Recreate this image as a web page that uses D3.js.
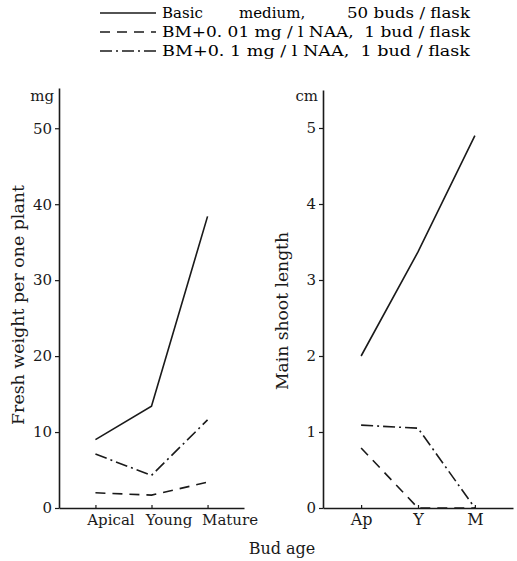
<!DOCTYPE html>
<html>
<head>
<meta charset="utf-8">
<script src="https://cdn.jsdelivr.net/npm/d3@7"></script>
<style>
  body { margin: 0; background: #fff; }
  svg { display: block; font-family: "DejaVu Serif", serif; }
</style>
</head>
<body>
<div class="container"></div>
<script>
/* ===== DATA ===== */
var budAge = ["Apical", "Young", "Mature"];
var budAgeShort = ["Ap", "Y", "M"];
var seriesNames = [
  "Basic medium, 50 buds / flask",
  "BM+0. 01 mg / l NAA,  1 bud / flask",
  "BM+0. 1 mg / l NAA,  1 bud / flask"
];
var weightBasic = [9.0, 13.4, 38.4];
var weightNaa001 = [2.0, 1.7, 3.4];
var weightNaa01 = [7.1, 4.3, 11.6];
var lengthBasic = [2.0, 3.37, 4.9];
var lengthNaa001 = [0.79, 0, 0];
var lengthNaa01 = [1.09, 1.05, 0];
var weightTicks = [0, 10, 20, 30, 40, 50];
var lengthTicks = [0, 1, 2, 3, 4, 5];

var dashes = [null, "10,7", "12,4,2,4"];
var ink = "#1a1a1a";
var serif = '"DejaVu Serif", serif';

var w = 517, h = 561;
var svg = d3.select('.container')
  .append('svg')
  .attr('width', w)
  .attr('height', h);

/* ===== LEGEND ===== */
var legend = svg.append('g');
seriesNames.forEach(function(name, i) {
  var y = 13 + i * 19;
  legend.append('line')
    .attr('x1', 100).attr('x2', 156)
    .attr('y1', y).attr('y2', y)
    .attr('stroke', ink)
    .attr('stroke-width', 1.4)
    .attr('stroke-dasharray', dashes[i]);
});
// first row is spread out like the original
legend.append('text').attr('x', 162).attr('y', 18).attr('font-size', '15px').text("Basic");
legend.append('text').attr('x', 239).attr('y', 18).attr('font-size', '15px').text("medium,");
legend.append('text').attr('x', 347).attr('y', 18).attr('font-size', '15px')
  .attr('textLength', 123).attr('lengthAdjust', 'spacingAndGlyphs').text("50 buds / flask");
[1, 2].forEach(function(i) {
  legend.append('text')
    .attr('x', 162).attr('y', 18 + i * 19)
    .attr('font-size', '15px')
    .attr('textLength', 308)
    .attr('lengthAdjust', 'spacingAndGlyphs')
    .style('white-space', 'pre')
    .text(seriesNames[i]);
});

/* ===== PANEL BUILDER ===== */
function buildPanel(opt) {
  var xScale = d3.scalePoint()
    .domain(opt.cats)
    .range([opt.x0, opt.x1])
    .padding(opt.pad);
  var yScale = d3.scaleLinear()
    .domain([0, opt.ymax])
    .range([508, opt.ytop]);

  var g = svg.append('g');

  var yAxis = d3.axisLeft(yScale)
    .tickValues(opt.ticks)
    .tickFormat(d3.format('d'))
    .tickSize(4)
    .tickSizeOuter(0)
    .tickPadding(3);
  var ya = g.append('g')
    .attr('transform', 'translate(' + opt.x0 + ',0)')
    .call(yAxis)
    .attr('font-family', serif);
  ya.selectAll('text').style('font-size', '15px').attr('fill', ink);

  var xAxis = d3.axisBottom(xScale)
    .tickSize(-3)
    .tickSizeOuter(0)
    .tickPadding(6);
  var xa = g.append('g')
    .attr('transform', 'translate(0,508)')
    .call(xAxis)
    .attr('font-family', serif);
  xa.selectAll('text')
    .style('font-size', opt.labelSize)
    .attr('fill', ink)
    .attr('dx', function(d, i) { return opt.labelShift[i]; });

  g.selectAll('.domain').attr('stroke', ink).attr('stroke-width', 1.6);
  g.selectAll('.tick line').attr('stroke', ink).attr('stroke-width', 1.2);

  var line = d3.line()
    .x(function(d, i) { return xScale(opt.cats[i]); })
    .y(function(d) { return yScale(d); });

  opt.series.forEach(function(vals, i) {
    g.append('path')
      .datum(vals)
      .attr('d', line)
      .attr('fill', 'none')
      .attr('stroke', ink)
      .attr('stroke-width', 1.6)
      .attr('stroke-dasharray', dashes[i]);
  });

  // unit on top of the axis
  g.append('text')
    .attr('x', opt.x0 - 5)
    .attr('y', 101)
    .attr('text-anchor', 'end')
    .attr('font-size', '15px')
    .attr('fill', ink)
    .text(opt.unit);

  // axis title
  g.append('text')
    .attr('transform', 'translate(' + opt.titleX + ',' + opt.titleY + ') rotate(-90)')
    .attr('text-anchor', 'middle')
    .attr('font-size', '16px')
    .attr('fill', ink)
    .attr('textLength', opt.titleLen)
    .attr('lengthAdjust', 'spacingAndGlyphs')
    .text(opt.title);
}

buildPanel({
  cats: budAge, x0: 59, x1: 244, pad: 0.65,
  ymax: 55.3, ytop: 88, ticks: weightTicks,
  series: [weightBasic, weightNaa001, weightNaa01],
  unit: "mg", title: "Fresh weight per one plant",
  titleX: 24, titleY: 305, titleLen: 240,
  labelSize: '15px', labelShift: [15, 17, 22]
});

buildPanel({
  cats: budAgeShort, x0: 323, x1: 513, pad: 0.67,
  ymax: 5.5, ytop: 90, ticks: lengthTicks,
  series: [lengthBasic, lengthNaa001, lengthNaa01],
  unit: "cm", title: "Main shoot length",
  titleX: 288, titleY: 311, titleLen: 158,
  labelSize: '16px', labelShift: [0, 0, 0]
});

/* ===== X TITLE ===== */
svg.append('text')
  .attr('x', 282)
  .attr('y', 554)
  .attr('text-anchor', 'middle')
  .attr('font-size', '16px')
  .attr('fill', ink)
  .text("Bud age");
</script>
</body>
</html>
